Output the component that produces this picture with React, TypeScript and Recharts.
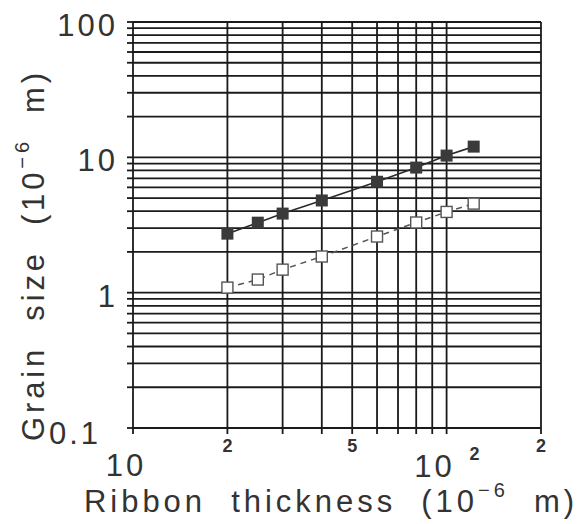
import React from 'react';
import { ComposedChart, Line, XAxis, YAxis, CartesianGrid, Label } from 'recharts';

// ribbon thickness (10^-6 m) at which grain size was measured
const thickness = [20, 25, 30, 40, 60, 80, 100, 122];
// grain size (10^-6 m), solid markers
const grainFilled = [2.73, 3.29, 3.84, 4.8, 6.6, 8.4, 10.3, 12.0];
// grain size (10^-6 m), open markers
const grainOpen = [1.09, 1.25, 1.48, 1.85, 2.6, 3.3, 3.95, 4.55];

// log grid lines
const xTicks = [10, 20, 30, 40, 50, 60, 70, 80, 90, 100, 200];
const yTicks = [
    0.1, 0.2, 0.3, 0.4, 0.5, 0.6, 0.7, 0.8, 0.9,
    1, 2, 3, 4, 5, 6, 7, 8, 9,
    10, 20, 30, 40, 50, 60, 70, 80, 90, 100,
];
// ticks that carry a label
const xLabelled = [10, 20, 50, 100, 200];
const yLabelled = [0.1, 1, 10, 100];

const rows = thickness.map((t, i) => ({ t, filled: grainFilled[i], open: grainOpen[i] }));

const FONT = '"Liberation Sans", Arial, sans-serif';
const INK = '#333';
const GRID = '#1a1a1a';

const XTick = (props: any) => {
    const { x, y, payload } = props;
    const v = payload.value;
    if (!xLabelled.includes(v)) return <g />;
    if (v === 10) {
        return (
            <text x={x - 7} y={y + 42} textAnchor="middle" fontSize={31} letterSpacing={3} fill={INK} fontFamily={FONT}>
                10
            </text>
        );
    }
    if (v === 100) {
        return (
            <g fill={INK} fontFamily={FONT}>
                <text x={x - 12} y={y + 43} textAnchor="middle" fontSize={31} letterSpacing={3}>10</text>
                <text x={x + 28} y={y + 26} textAnchor="middle" fontSize={18} fontWeight="bold">2</text>
            </g>
        );
    }
    const mant = Math.round(v / Math.pow(10, Math.floor(Math.log10(v))));
    return (
        <text x={x} y={y + 18} textAnchor="middle" fontSize={18} fontWeight="bold" fill={INK} fontFamily={FONT}>
            {mant}
        </text>
    );
};

const YTick = (props: any) => {
    const { x, y, payload } = props;
    const v = payload.value;
    if (!yLabelled.includes(v)) return <g />;
    const small = v < 1;
    return (
        <text
            x={small ? x - 26 : x - 9}
            y={y + (small ? 16 : 14)}
            textAnchor="end"
            fontSize={31}
            letterSpacing={3}
            fill={INK}
            fontFamily={FONT}
        >
            {v}
        </text>
    );
};

const XTitle = (props: any) => {
    const vb = props.viewBox;
    const cx = vb.x + vb.width / 2 - 8;
    const by = vb.y + 84;
    return (
        <text x={cx} y={by} textAnchor="middle" fontSize={31} fill={INK} fontFamily={FONT}
            textLength={490} lengthAdjust="spacing" style={{ whiteSpace: 'pre' }}>
            {'Ribbon  thickness  (10'}
            <tspan dy={-15} fontSize={20}>{'\u22126'}</tspan>
            <tspan dy={15}>{'  m)'}</tspan>
        </text>
    );
};

const YTitle = (props: any) => {
    const vb = props.viewBox;
    const bx = vb.x + 44;
    const cy = vb.y + vb.height / 2 + 32;
    return (
        <text x={bx} y={cy} transform={`rotate(-90, ${bx}, ${cy})`} textAnchor="middle" fontSize={31}
            fill={INK} fontFamily={FONT} textLength={368} lengthAdjust="spacing" style={{ whiteSpace: 'pre' }}>
            {'Grain  size  (10'}
            <tspan dy={-15} fontSize={20}>{'\u22126'}</tspan>
            <tspan dy={15}>{'  m)'}</tspan>
        </text>
    );
};

const FilledSquare = (props: any) => {
    const { cx, cy, index } = props;
    return <rect key={`f${index}`} x={cx - 6} y={cy - 6} width={12} height={12} fill="#3a3a3a" />;
};

const OpenSquare = (props: any) => {
    const { cx, cy, index } = props;
    return (
        <rect key={`o${index}`} x={cx - 5.5} y={cy - 5.5} width={11} height={11}
            fill="#fff" stroke="#555" strokeWidth={1.4} />
    );
};

const App: React.FC = () => {
    return (
        <div style={{ position: 'absolute', left: 0, top: 0, width: 585, height: 524, background: '#fff' }}>
            <ComposedChart width={585} height={524} data={rows} margin={{ top: 22, right: 44, bottom: 0, left: 0 }}>
                <CartesianGrid stroke={GRID} strokeWidth={1.8} />
                <XAxis
                    dataKey="t"
                    type="number"
                    scale="log"
                    domain={[10, 200]}
                    allowDataOverflow
                    ticks={xTicks}
                    interval={0}
                    height={96}
                    axisLine={false}
                    tickSize={6}
                    tickMargin={0}
                    tickLine={{ stroke: GRID, strokeWidth: 1.8 }}
                    tick={<XTick />}
                >
                    <Label content={<XTitle />} />
                </XAxis>
                <YAxis
                    type="number"
                    scale="log"
                    domain={[0.1, 100]}
                    allowDataOverflow
                    ticks={yTicks}
                    interval={0}
                    width={133}
                    axisLine={false}
                    tickSize={6}
                    tickMargin={0}
                    tickLine={{ stroke: GRID, strokeWidth: 1.8 }}
                    tick={<YTick />}
                >
                    <Label content={<YTitle />} />
                </YAxis>
                <Line
                    dataKey="filled"
                    type="linear"
                    stroke="#2a2a2a"
                    strokeWidth={1.6}
                    dot={<FilledSquare />}
                    activeDot={false}
                    isAnimationActive={false}
                />
                <Line
                    dataKey="open"
                    type="linear"
                    stroke="#555"
                    strokeWidth={1.5}
                    strokeDasharray="6 5"
                    dot={<OpenSquare />}
                    activeDot={false}
                    isAnimationActive={false}
                />
            </ComposedChart>
        </div>
    );
};

export default App;
